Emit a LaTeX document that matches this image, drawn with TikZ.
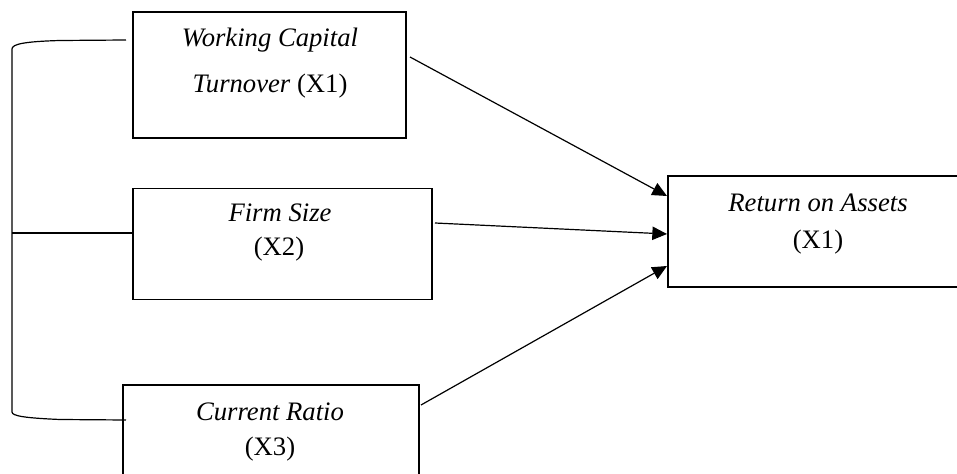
\documentclass[tikz,border=0pt]{standalone}
\usepackage{fontspec}
\setmainfont{Liberation Serif}
\usetikzlibrary{arrows.meta}
\begin{document}
\begin{tikzpicture}[x=0.75pt,y=-0.75pt,
  line width=0.9pt,
  boxshape/.style={draw,rectangle,inner sep=0pt},
  lbl/.style={anchor=base,inner sep=0pt,font=\fontsize{20}{24}\selectfont},
  conn/.style={-{Triangle[length=11pt,width=10pt]}}]
\useasboundingbox (0,0) rectangle (957,474);
\clip (0,0) rectangle (957,474);
% boxes
\node[boxshape,minimum width=273*0.75pt,minimum height=126*0.75pt] (b1) at (269.5,75) {};
\node[boxshape,minimum width=299*0.75pt,minimum height=111*0.75pt] (b2) at (282.5,244) {};
\node[boxshape,minimum width=296*0.75pt,minimum height=100*0.75pt] (b3) at (271,435) {};
\node[boxshape,minimum width=296*0.75pt,minimum height=111*0.75pt] (b4) at (816,231.5) {};
% texts
\node[lbl] (t1a) at (270,47) {\itshape Working Capital};
\node[lbl] (t1b) at (270,93) {\textit{Turnover} (X1)};
\node[lbl] (t2a) at (280,222) {\itshape Firm Size};
\node[lbl] (t2b) at (279,255) {(X2)};
\node[lbl] (t3a) at (270,420) {\itshape Current Ratio};
\node[lbl] (t3b) at (270,455) {(X3)};
\node[lbl] (t4a) at (818,212) {\itshape Return on Assets};
\node[lbl] (t4b) at (818,248) {(X1)};
% connector end points
\coordinate (s1) at (410,57);
\coordinate (e1) at (667,196);
\coordinate (s2) at (435,223);
\coordinate (e2) at (667,234);
\coordinate (s3) at (421,405);
\coordinate (e3) at (667,266);
\draw[conn] (s1) -- (e1);
\draw[conn] (s2) -- (e2);
\draw[conn] (s3) -- (e3);
% bracket
\coordinate (bt) at (126,40);
\coordinate (bb) at (126,420);
\draw (bt) -- (60,40.5) .. controls (25,41.5) and (12,44) .. (12,49)
  -- (12,412) .. controls (12,416) and (25,418) .. (60,419.5) -- (bb);
\draw (12,233) -- (b2.west |- 0,233);
\end{tikzpicture}
\end{document}
